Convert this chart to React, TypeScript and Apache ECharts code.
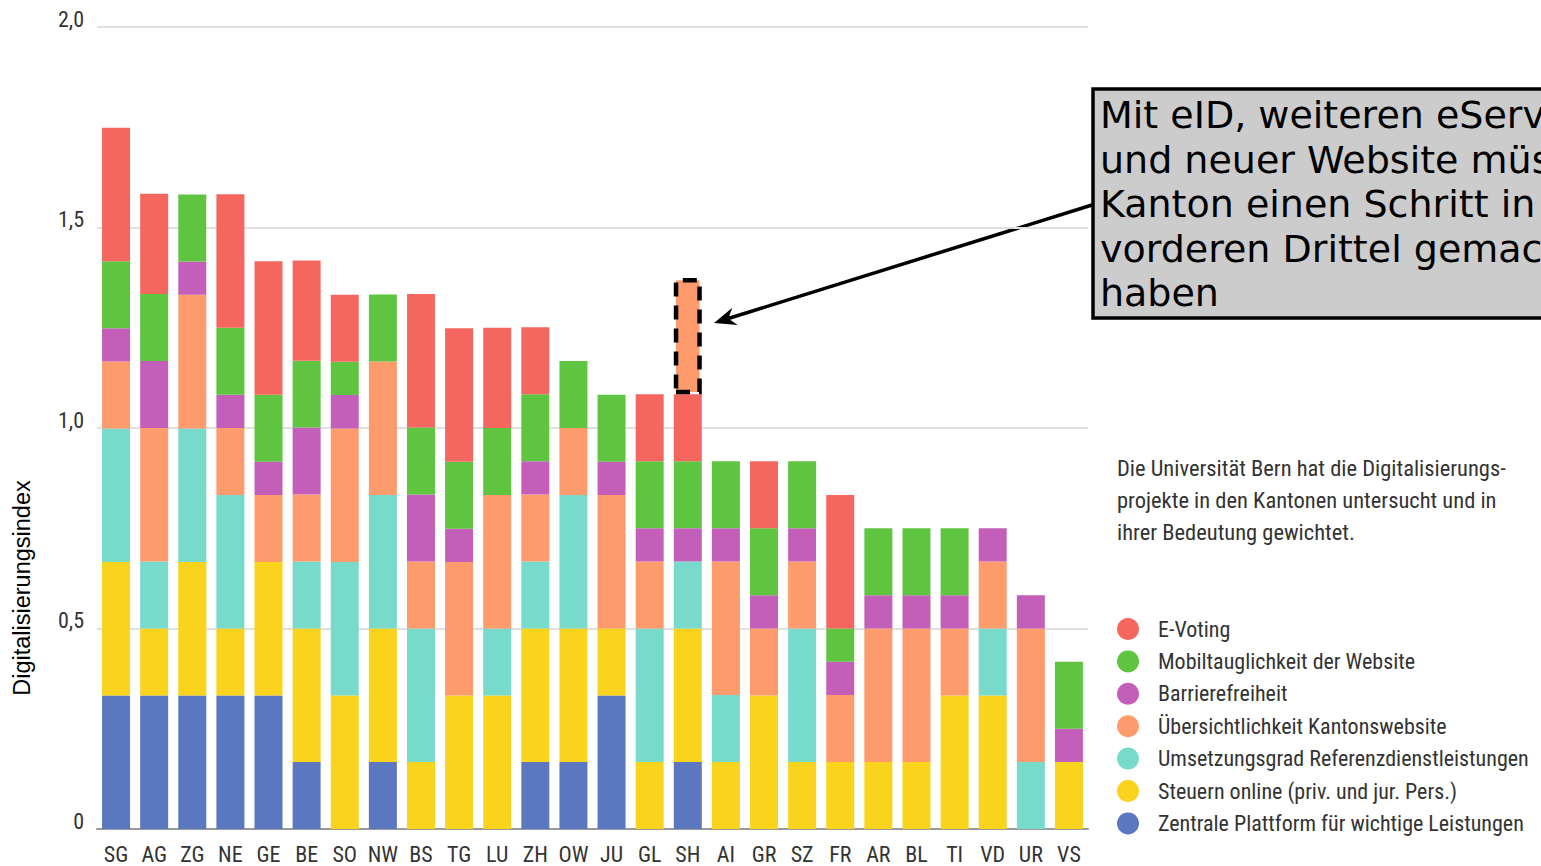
import React, { useEffect, useRef } from "react";
import * as echarts from "echarts";

const CANTONS = ["SG", "AG", "ZG", "NE", "GE", "BE", "SO", "NW", "BS", "TG", "LU", "ZH", "OW", "JU", "GL", "SH", "AI", "GR", "SZ", "FR", "AR", "BL", "TI", "VD", "UR", "VS"];

const ZENTRALE = [0.333, 0.333, 0.333, 0.333, 0.333, 0.167, 0, 0.167, 0, 0, 0, 0.167, 0.167, 0.333, 0, 0.167, 0, 0, 0, 0, 0, 0, 0, 0, 0, 0];
const STEUERN = [0.333, 0.167, 0.333, 0.167, 0.333, 0.333, 0.333, 0.333, 0.167, 0.333, 0.333, 0.333, 0.333, 0.167, 0.167, 0.333, 0.167, 0.333, 0.167, 0.167, 0.167, 0.167, 0.333, 0.333, 0, 0.167];
const UMSETZUNG = [0.333, 0.167, 0.333, 0.333, 0, 0.167, 0.333, 0.333, 0.333, 0, 0.167, 0.167, 0.333, 0, 0.333, 0.167, 0.167, 0, 0.333, 0, 0, 0, 0, 0.167, 0.167, 0];
const UEBERSICHT = [0.167, 0.333, 0.333, 0.167, 0.167, 0.167, 0.333, 0.333, 0.167, 0.333, 0.333, 0.167, 0.167, 0.333, 0.167, 0, 0.333, 0.167, 0.167, 0.167, 0.333, 0.333, 0.167, 0.167, 0.333, 0];
const BARRIERE = [0.083, 0.167, 0.083, 0.083, 0.083, 0.167, 0.083, 0, 0.167, 0.083, 0, 0.083, 0, 0.083, 0.083, 0.083, 0.083, 0.083, 0.083, 0.083, 0.083, 0.083, 0.083, 0.083, 0.083, 0.083];
const MOBIL = [0.167, 0.167, 0.167, 0.167, 0.167, 0.167, 0.083, 0.167, 0.167, 0.167, 0.167, 0.167, 0.167, 0.167, 0.167, 0.167, 0.167, 0.167, 0.167, 0.083, 0.167, 0.167, 0.167, 0, 0, 0.167];
const EVOTING = [0.333, 0.25, 0, 0.333, 0.333, 0.25, 0.167, 0, 0.333, 0.333, 0.25, 0.167, 0, 0, 0.167, 0.167, 0, 0.167, 0, 0.333, 0, 0, 0, 0, 0, 0];
// projected gain for SH (dashed annotation segment)
const SH_EXTRA = [0, 0, 0, 0, 0, 0, 0, 0, 0, 0, 0, 0, 0, 0, 0, 0.29, 0, 0, 0, 0, 0, 0, 0, 0, 0, 0];

const Y_TICKS = [0, 0.5, 1, 1.5, 2];

const SERIES = [
  { name: "Zentrale Plattform für wichtige Leistungen", data: ZENTRALE, color: "#5b77bf" },
  { name: "Steuern online (priv. und jur. Pers.)", data: STEUERN, color: "#f9d31c" },
  { name: "Umsetzungsgrad Referenzdienstleistungen", data: UMSETZUNG, color: "#78dacb" },
  { name: "Übersichtlichkeit Kantonswebsite", data: UEBERSICHT, color: "#fe9b6c" },
  { name: "Barrierefreiheit", data: BARRIERE, color: "#c45fb9" },
  { name: "Mobiltauglichkeit der Website", data: MOBIL, color: "#5fc43f" },
  { name: "E-Voting", data: EVOTING, color: "#f5665e" },
];

const NOTE_LINES = [
  "Die Universität Bern hat die Digitalisierungs-",
  "projekte in den Kantonen untersucht und in",
  "ihrer Bedeutung gewichtet.",
];

const CALLOUT_LINES = [
  "Mit eID, weiteren eServices",
  "und neuer Website müsste der",
  "Kanton einen Schritt in den",
  "vorderen Drittel gemacht",
  "haben",
];

const COND = "'Liberation Sans Narrow', 'Roboto Condensed', Roboto, sans-serif";

export default function App() {
  const ref = useRef<HTMLDivElement>(null);
  useEffect(() => {
    if (!ref.current) return;
    const chart = echarts.init(ref.current, null, { renderer: "svg" });

    // arrow geometry
    const tip = [714, 323];
    const start = [1092, 205];
    const dx = start[0] - tip[0];
    const dy = start[1] - tip[1];
    const len = Math.sqrt(dx * dx + dy * dy);
    const ux = dx / len, uy = dy / len;
    const nx = -uy, ny = ux;
    const headL = 22, headW = 9, notch = 15;
    const base = [tip[0] + ux * headL, tip[1] + uy * headL];
    const notchP = [tip[0] + ux * notch, tip[1] + uy * notch];

    const series: any[] = SERIES.map((s) => ({
      name: s.name,
      type: "bar",
      stack: "total",
      barWidth: 28,
      data: s.data.map((v) => (v === 0 ? null : v)),
      itemStyle: { color: s.color },
      emphasis: { disabled: true },
    }));
    series.push({
      name: "Projektion SH",
      type: "bar",
      stack: "total",
      barWidth: 28,
      data: SH_EXTRA.map((v) => (v === 0 ? null : v)),
      itemStyle: {
        color: "#fe9b6c",
        borderColor: "#000",
        borderWidth: 4.5,
        borderType: [14, 9],
      },
      emphasis: { disabled: true },
      z: 3,
    });

    chart.setOption({
      animation: false,
      grid: { left: 97, right: 453, top: 27, bottom: 37, containLabel: false },
      legend: {
        data: [...SERIES].reverse().map((s) => s.name),
        orient: "vertical",
        left: 1117,
        top: 618,
        padding: 0,
        itemWidth: 22,
        itemHeight: 22,
        itemGap: 10.4,
        icon: "circle",
        selectedMode: false,
        textStyle: {
          fontFamily: COND,
          fontSize: 22,
          color: "#333",
          lineHeight: 22,
          padding: [0, 0, 0, 14],
        },
      },
      xAxis: {
        type: "category",
        data: CANTONS,
        axisTick: { show: false },
        axisLine: { lineStyle: { color: "#999", width: 2 } },
        axisLabel: { fontFamily: COND, fontSize: 22, color: "#333", margin: 14, interval: 0 },
      },
      yAxis: {
        type: "value",
        min: Y_TICKS[0],
        max: Y_TICKS[Y_TICKS.length - 1],
        interval: 0.5,
        axisLine: { show: false },
        axisTick: { show: false },
        splitLine: { lineStyle: { color: "#e0e0e0", width: 2 } },
        axisLabel: {
          fontFamily: COND,
          fontSize: 22,
          color: "#333",
          margin: 13,
          verticalAlign: "bottom",
          lineHeight: 16,
          formatter: (v: number) => (v === 0 ? "0" : v.toFixed(1).replace(".", ",")),
        },
      },
      series,
      graphic: [
        {
          type: "text",
          x: 22,
          y: 588,
          rotation: Math.PI / 2,
          style: {
            text: "Digitalisierungsindex",
            font: "23.5px 'Liberation Sans', Arial, sans-serif",
            fill: "#000",
            align: "center",
            verticalAlign: "middle",
          },
        },
        {
          type: "text",
          left: 1117,
          top: 452,
          style: {
            text: NOTE_LINES.join("\n"),
            fontFamily: COND,
            fontSize: 22.5,
            lineHeight: 32,
            fill: "#333",
          },
        },
        {
          type: "line",
          shape: { x1: start[0], y1: start[1], x2: notchP[0], y2: notchP[1] },
          style: { stroke: "#000", lineWidth: 3.5 },
        },
        {
          type: "polygon",
          shape: {
            points: [
              tip,
              [base[0] + nx * headW, base[1] + ny * headW],
              notchP,
              [base[0] - nx * headW, base[1] - ny * headW],
            ],
          },
          style: { fill: "#000" },
        },
        {
          type: "rect",
          shape: { x: 1093, y: 89, width: 470, height: 229 },
          style: { fill: "#cccccc", stroke: "#000", lineWidth: 3.5 },
          z: 10,
        },
        {
          type: "text",
          x: 1100,
          y: 93,
          z: 11,
          style: {
            text: CALLOUT_LINES.join("\n"),
            font: "38px 'DejaVu Sans', Verdana, sans-serif",
            lineHeight: 44.5,
            fill: "#000",
          },
        },
      ],
    });
    return () => chart.dispose();
  }, []);
  return (
    <div
      ref={ref}
      style={{ position: "fixed", left: 0, top: 0, width: 1541, height: 866, background: "#fff" }}
    />
  );
}
